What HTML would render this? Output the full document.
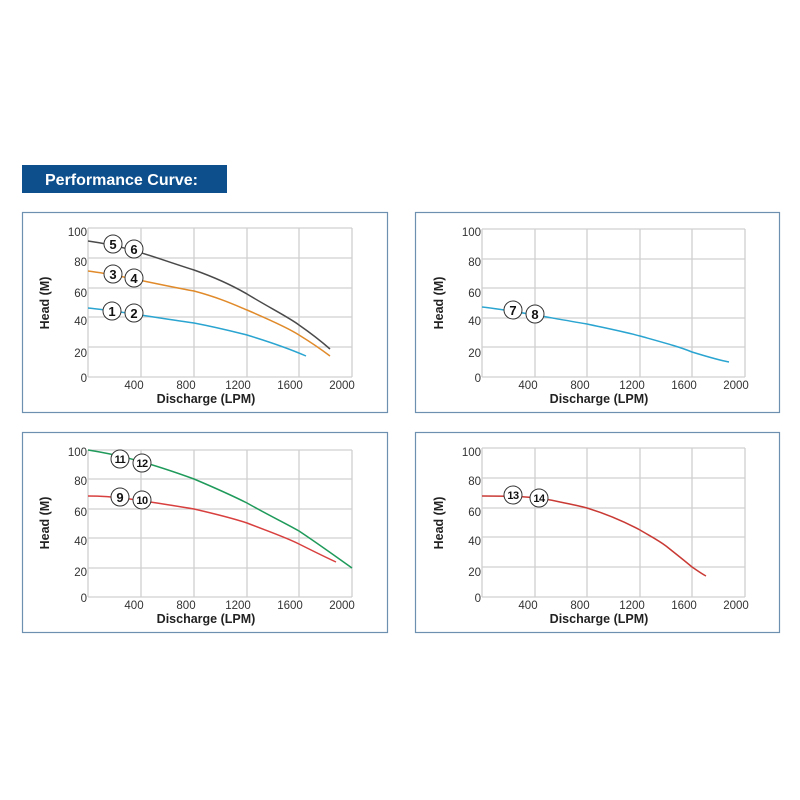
<!DOCTYPE html>
<html><head><meta charset="utf-8"><style>
html,body{margin:0;padding:0;background:#fff;}
svg{display:block;font-family:"Liberation Sans",Arial,sans-serif;}
.g{stroke:#d0d0d0;stroke-width:1.3;fill:none}
.t{font-size:11.5px;fill:#333}
.b{font-size:12.5px;font-weight:bold;fill:#222}
.c circle{fill:#fff;stroke:#333;stroke-width:1}
.c text{font-size:13px;font-weight:bold;fill:#111;text-anchor:middle}
.c text.s{font-size:11px;letter-spacing:-0.5px}
.box{fill:#fff;stroke:#6d8fb0;stroke-width:1.2}
</style></head><body>
<svg width="800" height="800" viewBox="0 0 800 800">
<rect x="22" y="165" width="205" height="28" fill="#0c4f8c"/>
<text x="45" y="185" font-size="16" font-weight="bold" fill="#fff">Performance Curve:</text>

<rect class="box" x="22.5" y="212.5" width="365" height="200"/>
<rect class="box" x="415.5" y="212.5" width="364" height="200"/>
<rect class="box" x="22.5" y="432.5" width="365" height="200"/>
<rect class="box" x="415.5" y="432.5" width="364" height="200"/>

<g class="g">
<path d="M88 228V377M141 228V377M194 228V377M247 228V377M299 228V377M352 228V377M88 228H352M88 258H352M88 288H352M88 317H352M88 347H352M88 377H352"/>
<path d="M482 229V377M535 229V377M587 229V377M640 229V377M692 229V377M745 229V377M482 229H745M482 259H745M482 288H745M482 318H745M482 347H745M482 377H745"/>
<path d="M88 450V597M141 450V597M194 450V597M247 450V597M299 450V597M352 450V597M88 450H352M88 479H352M88 509H352M88 538H352M88 568H352M88 597H352"/>
<path d="M482 448V597M535 448V597M587 448V597M640 448V597M692 448V597M745 448V597M482 448H745M482 478H745M482 508H745M482 537H745M482 567H745M482 597H745"/>
</g>

<g class="t" text-anchor="end">
<text x="87" y="236">100</text><text x="87" y="266">80</text><text x="87" y="297">60</text><text x="87" y="325">40</text><text x="87" y="357">20</text><text x="87" y="382">0</text>
<text x="481" y="236">100</text><text x="481" y="266">80</text><text x="481" y="297">60</text><text x="481" y="325">40</text><text x="481" y="357">20</text><text x="481" y="382">0</text>
<text x="87" y="456">100</text><text x="87" y="485">80</text><text x="87" y="516">60</text><text x="87" y="545">40</text><text x="87" y="576">20</text><text x="87" y="602">0</text>
<text x="481" y="456">100</text><text x="481" y="485">80</text><text x="481" y="516">60</text><text x="481" y="545">40</text><text x="481" y="576">20</text><text x="481" y="602">0</text>
</g>
<g class="t" text-anchor="middle">
<text x="134" y="389">400</text><text x="186" y="389">800</text><text x="238" y="389">1200</text><text x="290" y="389">1600</text><text x="342" y="389">2000</text>
<text x="528" y="389">400</text><text x="580" y="389">800</text><text x="632" y="389">1200</text><text x="684" y="389">1600</text><text x="736" y="389">2000</text>
<text x="134" y="609">400</text><text x="186" y="609">800</text><text x="238" y="609">1200</text><text x="290" y="609">1600</text><text x="342" y="609">2000</text>
<text x="528" y="609">400</text><text x="580" y="609">800</text><text x="632" y="609">1200</text><text x="684" y="609">1600</text><text x="736" y="609">2000</text>
</g>
<g class="b" text-anchor="middle">
<text x="206" y="403">Discharge (LPM)</text><text x="599" y="403">Discharge (LPM)</text>
<text x="206" y="623">Discharge (LPM)</text><text x="599" y="623">Discharge (LPM)</text>
<text transform="translate(49,303) rotate(-90)">Head (M)</text>
<text transform="translate(443,303) rotate(-90)">Head (M)</text>
<text transform="translate(49,523) rotate(-90)">Head (M)</text>
<text transform="translate(443,523) rotate(-90)">Head (M)</text>
</g>

<g fill="none" stroke-width="1.5" stroke-linejoin="round">
<path stroke="#4a4a4a" d="M88 241 C130 247 150 256 194 270 C225 281 240 290 247 294 C270 308 290 318 299 325 C312 334 322 342 330 349"/>
<path stroke="#e08a2a" d="M88 271 C120 275 150 283 194 291 C220 298 235 305 247 310 C275 322 290 329 299 335 C312 343 322 350 330 356"/>
<path stroke="#2aa4d0" d="M88 308 C120 311 150 317 194 323 C220 328 235 332 247 335 C270 342 290 349 306 356"/>
<path stroke="#2aa4d0" d="M482 307 C510 310 540 316 587 324 C610 329 625 332 640 336 C665 343 680 347 692 352 C705 356 718 360 729 362"/>
<path stroke="#1f9a5a" d="M88 450 C120 455 150 463 194 479 C220 490 235 497 247 503 C270 516 285 523 299 531 C320 545 335 556 352 568"/>
<path stroke="#d8403f" d="M88 496 C120 496 150 502 194 509 C220 515 235 519 247 523 C270 532 285 537 299 544 C315 552 325 557 336 562"/>
<path stroke="#c93a35" d="M482 496 C510 496 535 496 560 502 C575 505 580 506 587 508 C610 515 625 522 640 530 C650 536 658 540 666 546 C676 554 685 561 692 567 C698 571 702 574 706 576"/>
</g>

<g class="c">
<circle cx="112" cy="311" r="9"/><text x="112" y="316">1</text>
<circle cx="134" cy="313" r="9"/><text x="134" y="318">2</text>
<circle cx="113" cy="274" r="9"/><text x="113" y="279">3</text>
<circle cx="134" cy="278" r="9"/><text x="134" y="283">4</text>
<circle cx="113" cy="244" r="9"/><text x="113" y="249">5</text>
<circle cx="134" cy="249" r="9"/><text x="134" y="254">6</text>
<circle cx="513" cy="310" r="9"/><text x="513" y="315">7</text>
<circle cx="535" cy="314" r="9"/><text x="535" y="319">8</text>
<circle cx="120" cy="497" r="9"/><text x="120" y="502">9</text>
<circle cx="142" cy="500" r="9"/><text class="s" x="142" y="504">10</text>
<circle cx="120" cy="459" r="9"/><text class="s" x="120" y="463">11</text>
<circle cx="142" cy="463" r="9"/><text class="s" x="142" y="467">12</text>
<circle cx="513" cy="495" r="9"/><text class="s" x="513" y="499">13</text>
<circle cx="539" cy="498" r="9"/><text class="s" x="539" y="502">14</text>
</g>
</svg>
</body></html>
